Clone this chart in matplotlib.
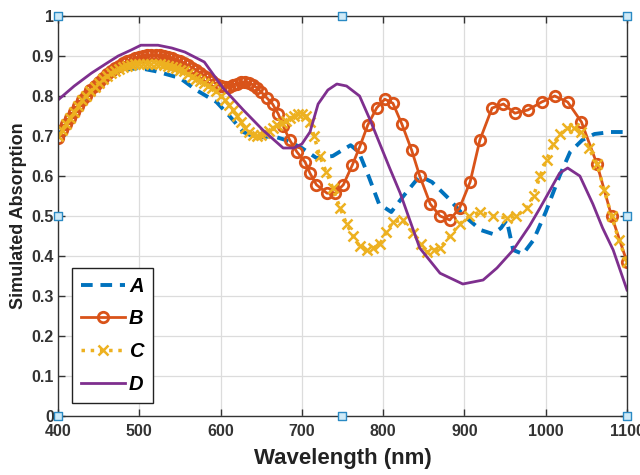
import matplotlib
matplotlib.use("Agg")
import matplotlib.pyplot as plt

plt.rcParams['font.family'] = ['Liberation Sans', 'DejaVu Sans']

# curve A (dashed)
a_wl = [400, 420, 440, 460, 480, 500, 520, 550, 570, 595, 611, 628, 645, 664, 680,
        700, 718, 738, 750, 760, 770, 782, 795, 810, 825, 845, 860, 880, 900, 920,
        935, 945, 952, 960, 972, 985, 1000, 1017, 1030, 1045, 1060, 1080, 1100]
a_val = [0.70, 0.76, 0.81, 0.845, 0.865, 0.87, 0.862, 0.845, 0.815, 0.785, 0.75, 0.71,
         0.695, 0.70, 0.69, 0.67, 0.645, 0.65, 0.665, 0.677, 0.66, 0.60, 0.53, 0.51,
         0.55, 0.60, 0.585, 0.545, 0.50, 0.465, 0.455, 0.47, 0.49, 0.415, 0.405, 0.44,
         0.51, 0.60, 0.66, 0.69, 0.705, 0.71, 0.71]

# curve B (circles)
b_wl = [400, 405, 410, 415, 420, 425, 430, 435, 440, 445, 450, 455, 460, 465, 470,
        475, 480, 485, 490, 495, 500, 505, 510, 515, 520, 525, 530, 535, 540, 545,
        550, 555, 560, 565, 570, 575, 580, 585, 590, 595, 600, 605, 610, 615, 620,
        625, 630, 635, 640, 645, 650, 657, 664, 671, 677, 685, 694, 704, 710, 718,
        731, 741, 751, 762, 771, 781, 792, 802, 812, 823, 835, 845, 858, 870, 882,
        894, 907, 919, 934, 948, 962, 978, 995, 1011, 1027, 1044, 1063, 1081, 1100]
b_val = [0.695, 0.715, 0.73, 0.745, 0.76, 0.775, 0.79, 0.80, 0.815, 0.825, 0.835, 0.845,
         0.855, 0.862, 0.87, 0.876, 0.882, 0.887, 0.891, 0.895, 0.898, 0.90, 0.902,
         0.903, 0.903, 0.902, 0.90, 0.898, 0.895, 0.891, 0.887, 0.882, 0.877, 0.871,
         0.865, 0.858, 0.851, 0.844, 0.837, 0.830, 0.825, 0.822, 0.823, 0.827, 0.831,
         0.834, 0.835, 0.833, 0.828, 0.82, 0.81, 0.795, 0.78, 0.755, 0.725, 0.69,
         0.66, 0.635, 0.607, 0.578, 0.557, 0.557, 0.578, 0.627, 0.672, 0.727, 0.77,
         0.792, 0.782, 0.73, 0.665, 0.60, 0.53, 0.50, 0.49, 0.52, 0.585, 0.69, 0.77,
         0.78, 0.757, 0.765, 0.785, 0.80, 0.785, 0.735, 0.63, 0.50, 0.385]

# curve C (crosses)
c_wl = [400, 405, 410, 415, 420, 425, 430, 435, 440, 445, 450, 455, 460, 465, 470,
        475, 480, 485, 490, 495, 500, 505, 510, 515, 520, 525, 530, 535, 540, 545,
        550, 555, 560, 565, 570, 575, 580, 585, 590, 595, 600, 605, 610, 615, 620,
        625, 630, 635, 640, 645, 650, 655, 660, 665, 670, 675, 680, 685, 690, 695,
        700, 705, 710, 715, 722, 730, 738, 747, 755, 763, 771, 780, 788, 796, 804,
        812, 824, 837, 846, 854, 862, 870, 882, 894, 906, 919, 935, 952, 964, 977,
        985, 993, 1001, 1009, 1018, 1026, 1035, 1044, 1053, 1063, 1072, 1081, 1090, 1100]
c_val = [0.70, 0.715, 0.73, 0.745, 0.76, 0.775, 0.79, 0.80, 0.812, 0.823, 0.833, 0.842,
         0.85, 0.857, 0.863, 0.868, 0.872, 0.875, 0.877, 0.879, 0.88, 0.881, 0.881,
         0.881, 0.88, 0.879, 0.877, 0.875, 0.872, 0.869, 0.866, 0.862, 0.855, 0.848,
         0.842, 0.837, 0.832, 0.826, 0.82, 0.812, 0.80, 0.79, 0.778, 0.765, 0.75,
         0.735, 0.72, 0.71, 0.703, 0.70, 0.702, 0.707, 0.713, 0.72, 0.727, 0.733,
         0.738, 0.744, 0.75, 0.755, 0.755, 0.75, 0.735, 0.70, 0.65, 0.61, 0.57, 0.52,
         0.48, 0.45, 0.425, 0.415, 0.42, 0.43, 0.46, 0.485, 0.49, 0.457, 0.43, 0.41,
         0.415, 0.42, 0.45, 0.48, 0.50, 0.51, 0.50, 0.495, 0.50, 0.52, 0.55, 0.60,
         0.64, 0.68, 0.705, 0.72, 0.72, 0.71, 0.67, 0.63, 0.565, 0.50, 0.44, 0.385]

# curve D (solid)
d_wl = [400, 420, 441, 460, 474, 490, 502, 523, 540, 556, 580, 603, 628, 652, 677,
        690, 700, 710, 720, 732, 743, 755, 771, 784, 796, 808, 821, 845, 870, 898,
        923, 940, 960, 980, 993, 1017, 1027, 1042, 1058, 1070, 1083, 1100]
d_val = [0.79, 0.825, 0.857, 0.882, 0.90, 0.915, 0.927, 0.927, 0.92, 0.91, 0.885,
         0.82, 0.765, 0.715, 0.67, 0.67, 0.68, 0.71, 0.78, 0.815, 0.83, 0.825, 0.80,
         0.74, 0.68, 0.62, 0.557, 0.42, 0.357, 0.33, 0.34, 0.37, 0.415, 0.475, 0.52,
         0.607, 0.62, 0.60, 0.53, 0.47, 0.415, 0.315]

names = ['A', 'B', 'C', 'D']
xticks = [400, 500, 600, 700, 800, 900, 1000, 1100]
yticks = [0, 0.1, 0.2, 0.3, 0.4, 0.5, 0.6, 0.7, 0.8, 0.9, 1]
ytick_labels = ['0', '0.1', '0.2', '0.3', '0.4', '0.5', '0.6', '0.7', '0.8', '0.9', '1']

fig = plt.figure(figsize=(6.4, 4.75), dpi=100)
ax = fig.add_axes([0.0906, 0.1242, 0.8891, 0.8421])

ax.plot(a_wl, a_val, linestyle='--', color='#0072BD', lw=2.8, dashes=(3, 2), label=names[0])
ax.plot(b_wl, b_val, linestyle='-', color='#D95319', lw=2, marker='o', ms=7.5,
        mfc='none', mew=2, label=names[1])
ax.plot(c_wl, c_val, linestyle=':', color='#EDB120', lw=2.5, marker='x', ms=7,
        mew=1.8, label=names[2])
ax.plot(d_wl, d_val, linestyle='-', color='#7E2F8E', lw=2, label=names[3])

ax.set_xlim(400, 1100)
ax.set_ylim(0, 1)
ax.set_xticks(xticks)
ax.set_yticks(yticks)
ax.set_yticklabels(ytick_labels)
ax.grid(True, color='#dcdcdc', lw=0.9)
ax.set_axisbelow(True)
ax.tick_params(direction='in', top=True, right=True, length=5, width=1,
               colors='#333333', labelsize=11.5)
ax.tick_params(axis='x', pad=6)
ax.tick_params(axis='y', pad=3)
for lab in ax.get_xticklabels() + ax.get_yticklabels():
    lab.set_fontweight('bold')
for sp in ax.spines.values():
    sp.set_color('#333333')
    sp.set_linewidth(1)

ax.set_xlabel('Wavelength (nm)', fontsize=16, fontweight='bold', color='#222222', labelpad=6)
ax.set_ylabel('Simulated Absorption', fontsize=13, fontweight='bold', color='#222222', labelpad=3)

# edit handles drawn by the figure editor
hx = [0, 0.5, 1, 0, 1, 0, 0.5, 1]
hy = [1, 1, 1, 0.5, 0.5, 0, 0, 0]
ax.scatter(hx, hy, transform=ax.transAxes, marker='s', s=28, facecolor='#cfeaf7',
           edgecolor='#2a8ac4', lw=1, clip_on=False, zorder=10)

leg = ax.legend(loc='lower left', bbox_to_anchor=(0.024, 0.033), fancybox=False,
                edgecolor='#222222', framealpha=1, handlelength=2.2, handletextpad=0.2,
                labelspacing=0.68, borderpad=0.45, borderaxespad=0,
                prop={'weight': 'bold', 'style': 'italic', 'size': 14.5})
leg.get_frame().set_linewidth(1)

fig.savefig('out.png', dpi=100)
